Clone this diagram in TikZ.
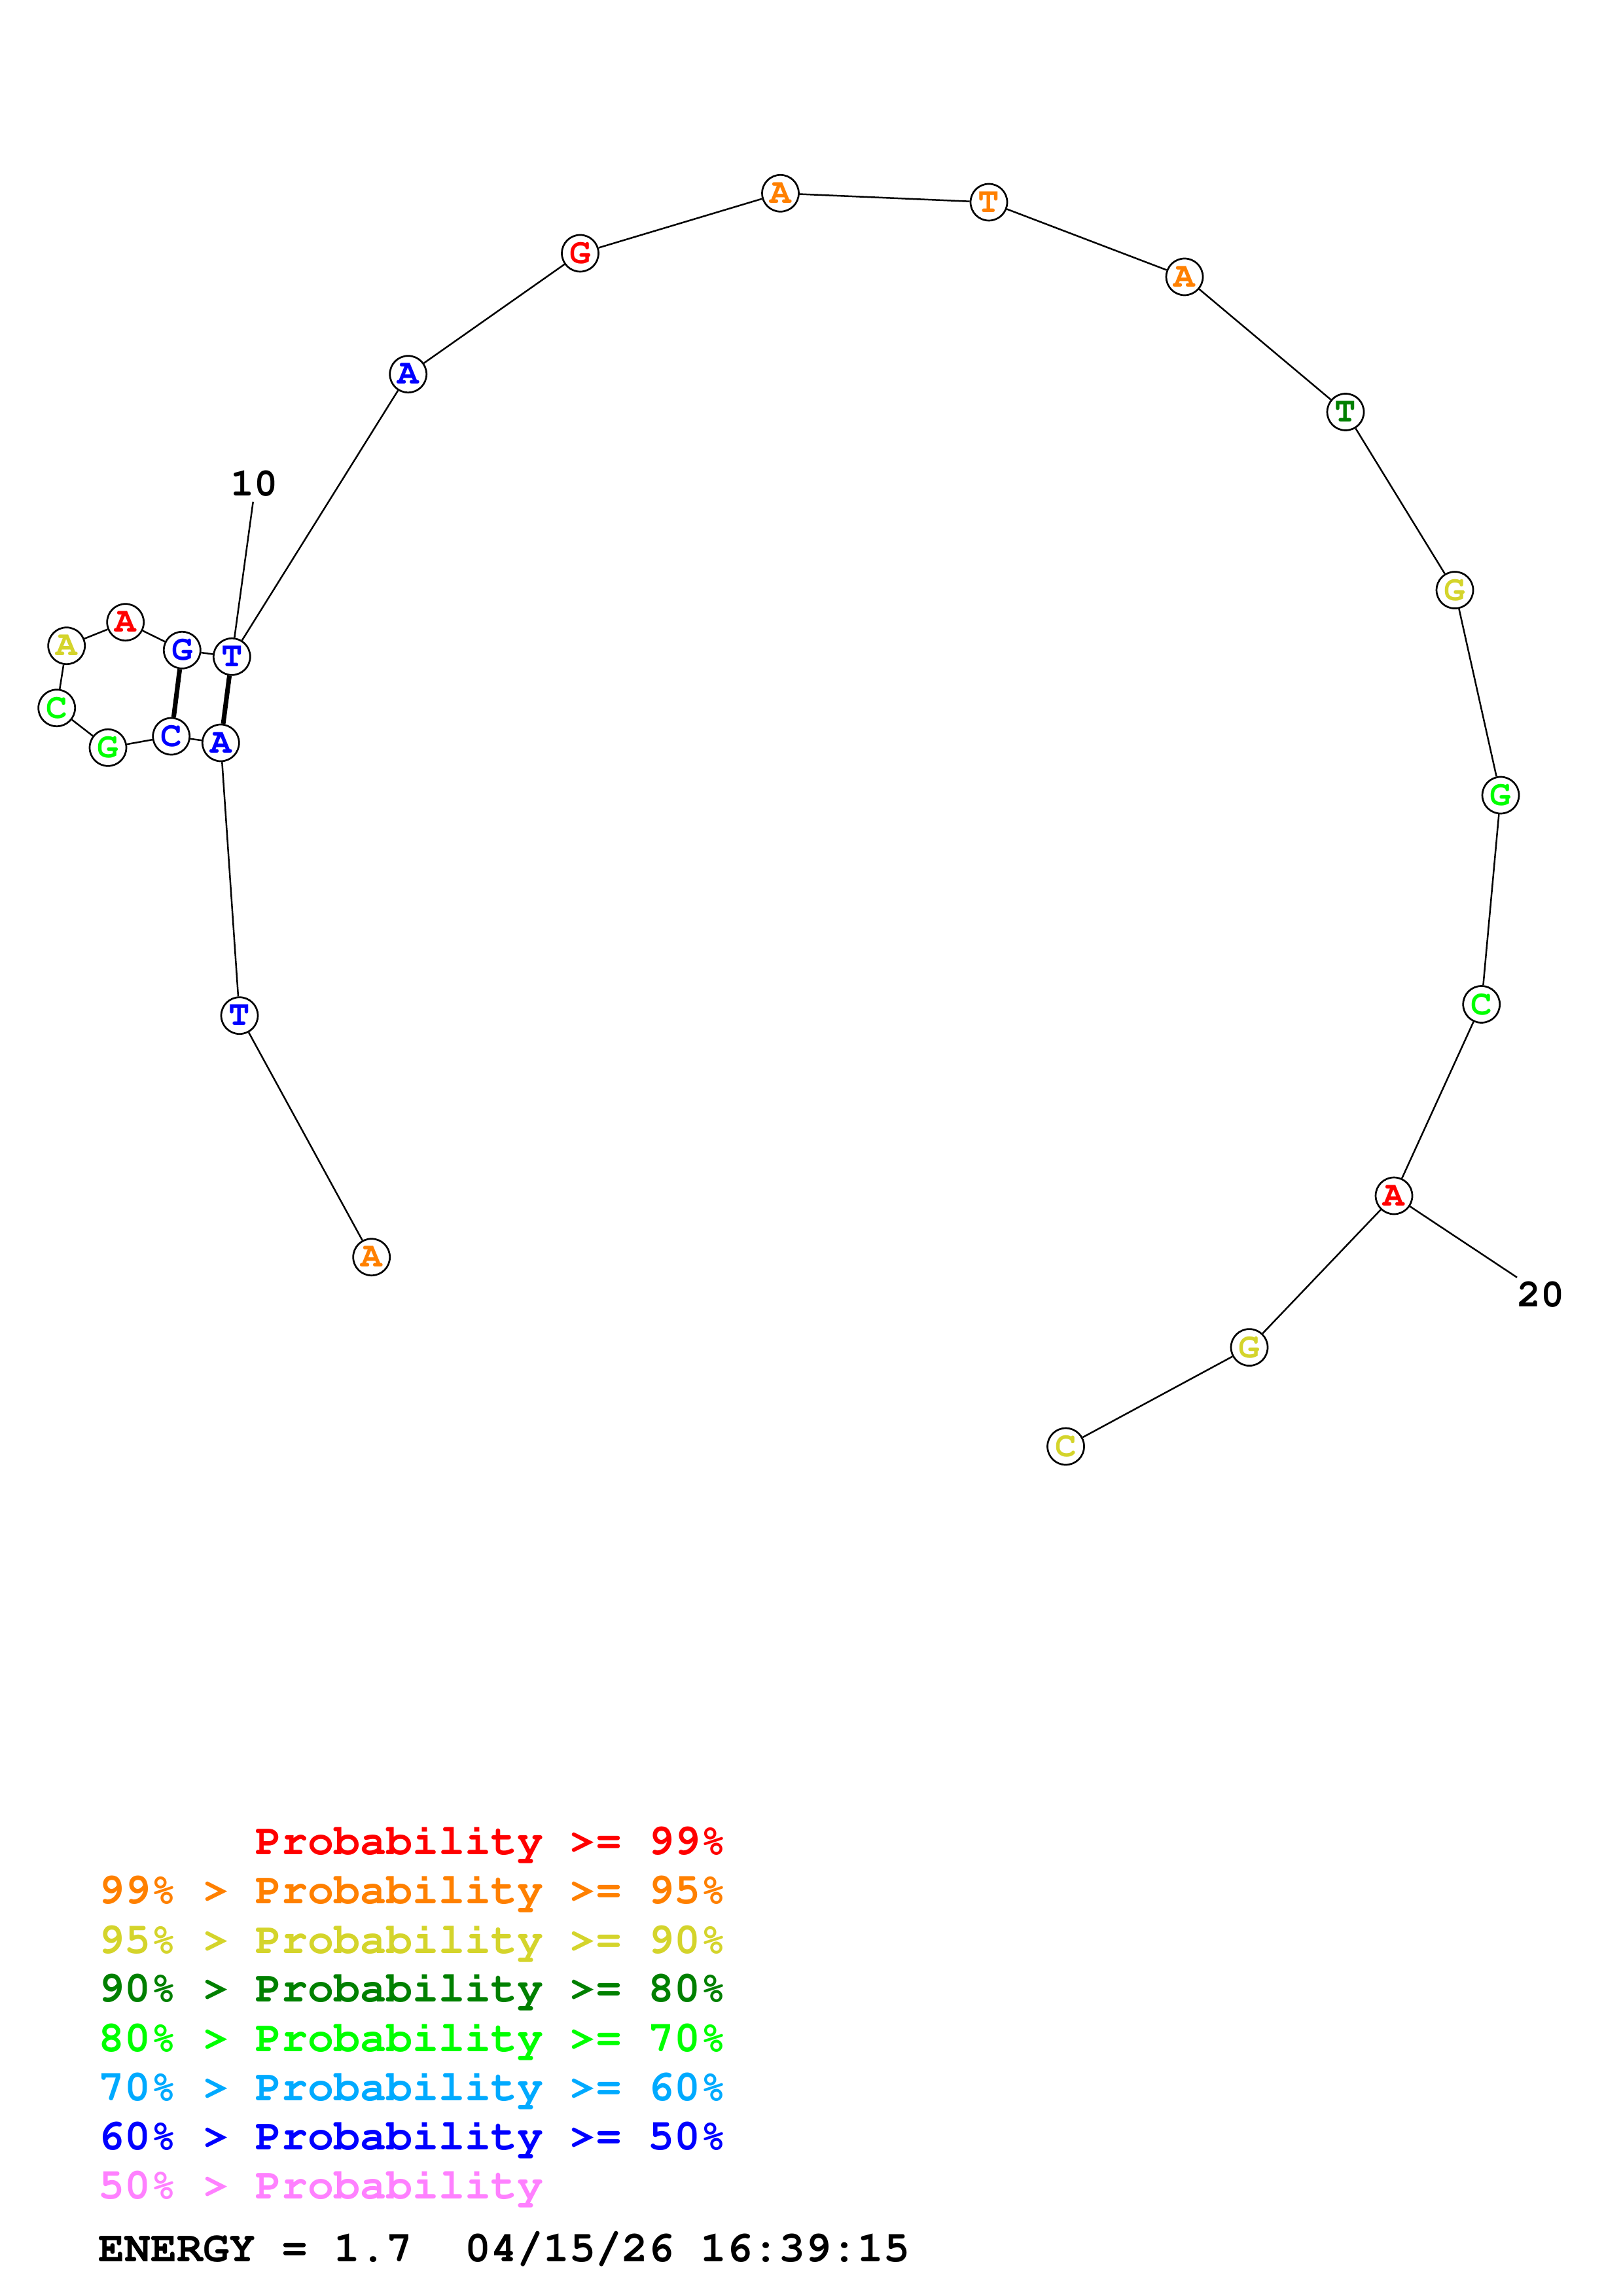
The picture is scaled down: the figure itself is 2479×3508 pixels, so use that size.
\documentclass[tikz,border=0pt]{standalone}
\usepackage[T1,TU]{fontenc}
\newcommand\courb{\fontencoding{T1}\fontfamily{pcr}\fontseries{b}\fontshape{n}\selectfont}
\definecolor{cRed}{HTML}{FF0000}
\definecolor{cOrange}{HTML}{FF8000}
\definecolor{cYellow}{HTML}{D4D42B}
\definecolor{cDkGreen}{HTML}{008000}
\definecolor{cGreen}{HTML}{00FF00}
\definecolor{cSky}{HTML}{00AAFF}
\definecolor{cBlue}{HTML}{0000FF}
\definecolor{cPink}{HTML}{FF80FF}
\begin{document}
\begin{tikzpicture}[x=0.24pt,y=-0.24pt,
  base/.style={circle,draw=black,fill=white,line width=0.65pt,minimum size=13.44pt,inner sep=0pt,font=\courb\fontsize{13}{13}\selectfont},
  bb/.style={line width=0.6pt,black},
  pair/.style={line width=1.7pt,black},
  lab/.style={inner sep=0pt,font=\courb\fontsize{14.5}{14.5}\selectfont},
  leg/.style={anchor=base west,inner sep=0pt,font=\courb\fontsize{16}{18}\selectfont}]
\fill[white] (0,0) rectangle (2479,3508);
\useasboundingbox (0,0) rectangle (2479,3508);
% bases
\node[base,text=cOrange] (n1) at (567.7,1920.7) {\raisebox{-1pt}{A}};
\node[base,text=cBlue] (n2) at (366,1551.7) {\raisebox{-1pt}{T}};
\node[base,text=cBlue] (n3) at (337.3,1135) {\raisebox{-1pt}{A}};
\node[base,text=cBlue] (n4) at (261.7,1125) {\raisebox{-1pt}{C}};
\node[base,text=cGreen] (n5) at (165,1142.3) {\raisebox{-1pt}{G}};
\node[base,text=cGreen] (n6) at (86.7,1081.7) {\raisebox{-1pt}{C}};
\node[base,text=cYellow] (n7) at (101.7,986.7) {\raisebox{-1pt}{A}};
\node[base,text=cRed] (n8) at (191.7,950.7) {\raisebox{-1pt}{A}};
\node[base,text=cBlue] (n9) at (278.3,993.3) {\raisebox{-1pt}{G}};
\node[base,text=cBlue] (n10) at (354.3,1003.3) {\raisebox{-1pt}{T}};
\node[base,text=cBlue] (n11) at (623.7,571.7) {\raisebox{-1pt}{A}};
\node[base,text=cRed] (n12) at (886.5,387) {\raisebox{-1pt}{G}};
\node[base,text=cOrange] (n13) at (1192.5,295.3) {\raisebox{-1pt}{A}};
\node[base,text=cOrange] (n14) at (1511,309) {\raisebox{-1pt}{T}};
\node[base,text=cOrange] (n15) at (1810,423) {\raisebox{-1pt}{A}};
\node[base,text=cDkGreen] (n16) at (2056,629.5) {\raisebox{-1pt}{T}};
\node[base,text=cYellow] (n17) at (2223,901.6) {\raisebox{-1pt}{G}};
\node[base,text=cGreen] (n18) at (2293,1215) {\raisebox{-1pt}{G}};
\node[base,text=cGreen] (n19) at (2263.7,1534.5) {\raisebox{-1pt}{C}};
\node[base,text=cRed] (n20) at (2130,1827) {\raisebox{-1pt}{A}};
\node[base,text=cYellow] (n21) at (1909,2058.6) {\raisebox{-1pt}{G}};
\node[base,text=cYellow] (n22) at (1628.5,2210) {\raisebox{-1pt}{C}};
% backbone
\draw[bb] (n1)--(n2)--(n3)--(n4)--(n5)--(n6)--(n7)--(n8)--(n9)--(n10)--(n11)--(n12)--(n13)--(n14)--(n15)--(n16)--(n17)--(n18)--(n19)--(n20)--(n21)--(n22);
% pairs
\draw[pair] (n3)--(n10);
\draw[pair] (n4)--(n9);
% numbering
\coordinate (e10) at (386.7,766.7);
\draw[bb] (n10)--(e10);
\node[lab] (l10) at (388.3,739.3) {10};
\coordinate (e20) at (2318,1951.7);
\draw[bb] (n20)--(e20);
\node[lab] (l20) at (2354.5,1978.5) {20};
% legend
\node[leg,text=cRed] (g1) at (150,2833.3) {\phantom{99\%~>~}Probability~>=~99\%};
\node[leg,text=cOrange] (g2) at (150,2908.2) {99\%~>~Probability~>=~95\%};
\node[leg,text=cYellow] (g3) at (150,2984) {95\%~>~Probability~>=~90\%};
\node[leg,text=cDkGreen] (g4) at (150,3058.8) {90\%~>~Probability~>=~80\%};
\node[leg,text=cGreen] (g5) at (150,3134.7) {80\%~>~Probability~>=~70\%};
\node[leg,text=cSky] (g6) at (150,3209.5) {70\%~>~Probability~>=~60\%};
\node[leg,text=cBlue] (g7) at (150,3284.9) {60\%~>~Probability~>=~50\%};
\node[leg,text=cPink] (g8) at (150,3359.7) {50\%~>~Probability};
\node[leg,text=black] (g9) at (150,3455.7) {ENERGY~=~1.7~~04/15/26~16:39:15};
\end{tikzpicture}
\end{document}
